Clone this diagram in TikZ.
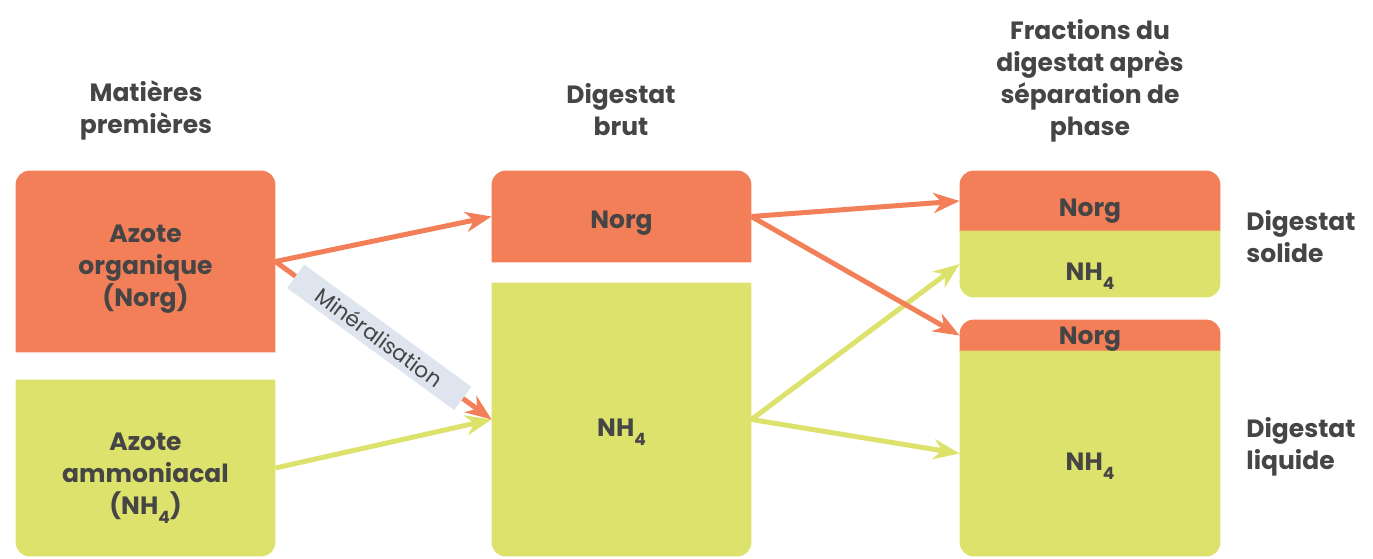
\documentclass[tikz,border=0pt]{standalone}
\usepackage{fontspec}
\setmainfont{Poppins}
\usetikzlibrary{arrows.meta, backgrounds}
\definecolor{NorgOrange}{HTML}{F37F58}
\definecolor{AmmoGreen}{HTML}{DCE26C}
\definecolor{InkGray}{HTML}{454545}
\definecolor{LabelBlue}{HTML}{DEE5EE}
\newcommand\nhsub{NH\raisebox{-4.5pt}[0pt][0pt]{\fontsize{8.5}{8.5}\selectfont 4}}

\begin{document}
\begin{tikzpicture}[x=0.5pt, y=-0.5pt,
  every node/.style={text=InkGray, font=\fontsize{12.5}{16}\selectfont\bfseries, align=center},
  part/.style={inner sep=0pt, minimum width=129.5pt},
  flow/.style={line width=2.5pt, -{Stealth[length=13pt, width=10pt, inset=4pt]}},
  tag/.style={fill=LabelBlue, inner sep=0pt, minimum width=103.5pt, minimum height=14.5pt,
              font=\fontsize{10.8}{12}\selectfont},
]
\useasboundingbox (0,0) rectangle (1373,558);

% column titles
\node (hdRaw) at (146,110) {Matières\\premières};
\node (hdBrut) at (621,110) {Digestat\\brut};
\node (hdFrac) at (1090,81) {Fractions du\\digestat après\\séparation de\\phase};

% raw materials
\node[part, minimum height=90.5pt] (rawN) at (145.5,261.5) {};
\node[part, minimum height=88pt] (rawA) at (145.5,468) {};
\node (rawNt) at ([yshift=-4pt]rawN) {Azote\\organique\\(Norg)};
\node (rawAt) at ([yshift=-4pt]rawA) {Azote\\ammoniacal\\(\nhsub)};

% raw digestate
\node[part, minimum height=45.5pt] (brutN) at (621.5,216.5) {};
\node[part, minimum height=136.5pt] (brutA) at (621.5,419.5) {};
\node (brutNt) at ([yshift=-3.5pt]brutN) {Norg};
\node (brutAt) at ([yshift=-4pt]brutA) {\nhsub};

% fractions
\node[part, minimum width=130pt, minimum height=30pt] (solN) at (1090,201) {};
\node[part, minimum width=130pt, minimum height=33pt] (solA) at (1090,264) {};
\node[part, minimum width=130pt, minimum height=15.5pt] (liqN) at (1090,335.5) {};
\node[part, minimum width=130pt, minimum height=102.5pt] (liqA) at (1090,453.5) {};
\node (solNt) at ([yshift=-5pt]solN) {Norg};
\node (solAt) at ([yshift=-4pt]solA) {\nhsub};
\node (liqNt) at ([yshift=-2pt]liqN) {Norg};
\node (liqAt) at ([yshift=-4pt]liqA) {\nhsub};

\node[anchor=west, align=left, inner sep=0pt] (sol) at (1246,237) {Digestat\\solide};
\node[anchor=west, align=left, inner sep=0pt] (liq) at (1246,447) {Digestat\\liquide};

\begin{scope}[on background layer]
  \foreach \n in {rawN, brutN, solN, liqN}
    \fill[NorgOrange] (\n.south west) [rounded corners=7pt] -- (\n.north west)
      -- (\n.north east) [sharp corners] -- (\n.south east) -- cycle;
  \foreach \n in {rawA, brutA, solA, liqA}
    \fill[AmmoGreen] (\n.north west) -- (\n.north east) [rounded corners=7pt]
      -- (\n.south east) -- (\n.south west) [sharp corners] -- cycle;
\end{scope}

\draw[flow, AmmoGreen] (rawA.east) -- (brutA.west);
\draw[flow, AmmoGreen] (brutA.east) -- (solA.west);
\draw[flow, AmmoGreen] (brutA.east) -- (liqA.west);
\draw[flow, NorgOrange] (rawN.east) -- (brutN.west);
\draw[flow, NorgOrange] (brutN.east) -- (solN.west);
\draw[flow, NorgOrange] (brutN.east) -- (liqN.west);
\draw[flow, NorgOrange] (rawN.east) -- node[tag, sloped, pos=0.48] (miner) {Minéralisation} (brutA.west);
\end{tikzpicture}
\end{document}
